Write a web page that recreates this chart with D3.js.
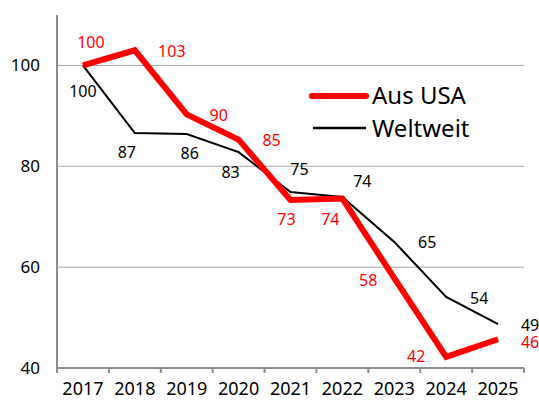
<!DOCTYPE html>
<html>
<head>
<meta charset="utf-8">
<script src="https://cdn.jsdelivr.net/npm/d3@7"></script>
<style>
  body { margin: 0; background: #fff; }
  text { font-family: "Noto Sans", sans-serif; }
</style>
</head>
<body>
<div id="chart"></div>
<script>
// Data
var years = ["2017", "2018", "2019", "2020", "2021", "2022", "2023", "2024", "2025"];
var usaValues = [100, 103, 90.3, 85.3, 73.3, 73.6, 57.8, 42.2, 45.7];
var worldValues = [100, 86.6, 86.4, 82.8, 74.9, 73.9, 65.0, 54.1, 48.7];
var yTicks = [40, 60, 80, 100];
var seriesNames = ["Aus USA", "Weltweit"];

// Label placement relative to each point (layout only)
var usaLabelOffset = [[8, -17], [37, 7], [32, 7], [33, 6], [-4, 25], [-12, 26], [-26, 8], [-30, 5], [32, 9]];
var worldLabelOffset = [[0, 32], [-8, 25], [3, 25], [-8, 26], [9, -17], [20, -10], [33, 6], [33, 7], [32, 7]];

var svgWidth = 539;
var svgHeight = 403;

var margin = { top: 15, bottom: 35, left: 57, right: 15 };

var svg = d3.select("#chart")
  .append("svg")
  .attr("width", svgWidth)
  .attr("height", svgHeight);

// scales
var xBand = d3.scaleBand()
  .domain(years)
  .range([margin.left, svgWidth - margin.right]);

var yScale = d3.scaleLinear()
  .domain([40, 110])
  .range([svgHeight - margin.bottom, margin.top]);

var xPos = d => xBand(d) + xBand.bandwidth() / 2;

// gridlines
svg.append("g")
  .selectAll("line")
  .data(yTicks.filter(t => t > 40))
  .enter()
  .append("line")
  .attr("x1", margin.left)
  .attr("x2", svgWidth - margin.right)
  .attr("y1", d => yScale(d))
  .attr("y2", d => yScale(d))
  .attr("stroke", "#a6a6a6")
  .attr("stroke-width", 1);

// y axis
var leftAxis = d3.axisLeft(yScale).tickValues(yTicks).tickSize(0).tickPadding(17);
var yAxisG = svg.append("g")
  .attr("transform", `translate(${margin.left}, 0)`)
  .call(leftAxis);
yAxisG.select(".domain").remove();
yAxisG.selectAll("text")
  .style("font-size", "17px")
  .attr("fill", "#000");

svg.append("line")
  .attr("x1", margin.left)
  .attr("x2", margin.left)
  .attr("y1", margin.top)
  .attr("y2", yScale(40))
  .attr("stroke", "#8c8c8c")
  .attr("stroke-width", 2);

// x axis
var bottomAxis = d3.axisBottom(xBand).tickSize(0).tickPadding(14);
var xAxisG = svg.append("g")
  .attr("transform", `translate(0, ${yScale(40)})`)
  .call(bottomAxis);
xAxisG.select(".domain").remove();
xAxisG.selectAll("text")
  .style("font-size", "18px")
  .attr("fill", "#000");

svg.append("line")
  .attr("x1", margin.left)
  .attr("x2", svgWidth - margin.right)
  .attr("y1", yScale(40))
  .attr("y2", yScale(40))
  .attr("stroke", "#8c8c8c")
  .attr("stroke-width", 2);

// tick marks at category boundaries
var edges = years.map(d => xBand(d)).concat([xBand.range()[1]]);
svg.append("g")
  .selectAll("line")
  .data(edges)
  .enter()
  .append("line")
  .attr("x1", d => d)
  .attr("x2", d => d)
  .attr("y1", yScale(40))
  .attr("y2", yScale(40) + 5)
  .attr("stroke", "#8c8c8c")
  .attr("stroke-width", 2);

// lines
var line = d3.line()
  .x((d, i) => xPos(years[i]))
  .y(d => yScale(d));

svg.append("path")
  .datum(worldValues)
  .attr("d", line)
  .attr("fill", "none")
  .attr("stroke", "#000")
  .attr("stroke-width", 2);

svg.append("path")
  .datum(usaValues)
  .attr("d", line)
  .attr("fill", "none")
  .attr("stroke", "#f00")
  .attr("stroke-width", 6)
  .attr("stroke-linejoin", "miter");

// data labels
function addLabels(values, offsets, color) {
  svg.append("g")
    .selectAll("text")
    .data(values)
    .enter()
    .append("text")
    .attr("x", (d, i) => xPos(years[i]) + offsets[i][0])
    .attr("y", (d, i) => yScale(d) + offsets[i][1])
    .attr("text-anchor", "middle")
    .style("font-size", "16px")
    .attr("fill", color)
    .text(d => d3.format(".0f")(d));
}
addLabels(usaValues, usaLabelOffset, "#f00");
addLabels(worldValues, worldLabelOffset, "#000");

// legend
var legend = svg.append("g");
legend.append("line")
  .attr("x1", 312).attr("x2", 366)
  .attr("y1", 96).attr("y2", 96)
  .attr("stroke", "#f00")
  .attr("stroke-width", 6)
  .attr("stroke-linecap", "round");
legend.append("line")
  .attr("x1", 313).attr("x2", 366)
  .attr("y1", 128).attr("y2", 128)
  .attr("stroke", "#000")
  .attr("stroke-width", 2.5);
legend.selectAll("text")
  .data(seriesNames)
  .enter()
  .append("text")
  .attr("x", 372)
  .attr("y", (d, i) => 104 + i * 33)
  .style("font-size", "24px")
  .attr("fill", "#000")
  .text(d => d);
</script>
</body>
</html>
